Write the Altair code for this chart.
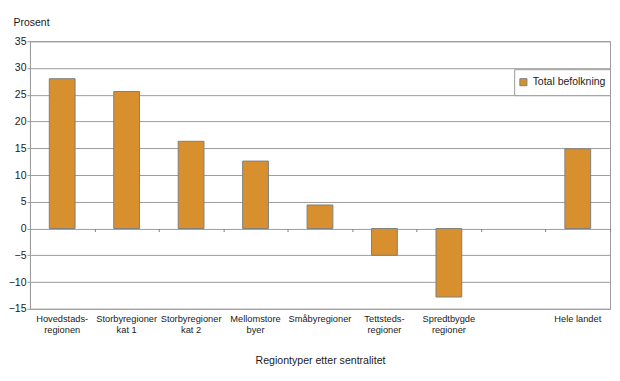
import altair as alt
import pandas as pd

categories = ["Hovedstads-\nregionen", "Storbyregioner\nkat 1", "Storbyregioner\nkat 2",
              "Mellomstore\nbyer", "Småbyregioner", "Tettsteds-\nregioner",
              "Spredtbygde\nregioner", " ", "Hele landet"]
values = [28.0, 25.6, 16.3, 12.6, 4.4, -5.0, -12.8, None, 14.9]
series = "Total befolkning"
y_ticks = [-15, -10, -5, 0, 5, 10, 15, 20, 25, 30, 35]

df = pd.DataFrame({"region": categories, "value": values, "serie": [series] * len(categories)})
df_bars = df.dropna()

FONT = "Liberation Sans"
TXT = "#1a1a1a"
GRID = "#9c9c9c"
ORANGE = "#D8902F"

W, H = 581, 268
zero_from_bottom = H * (0 - (-15)) / 50.0
LEG_W = 96

xscale = alt.Scale(domain=categories, paddingInner=0, paddingOuter=0)
yscale = alt.Scale(domain=[-15, 35], nice=False)

bars = alt.Chart(df_bars).mark_bar(
    width=alt.RelativeBandSize(0.4), stroke="#808080", strokeWidth=1
).encode(
    x=alt.X("region:N", scale=xscale, sort=categories,
            axis=alt.Axis(title="Regiontyper etter sentralitet", labelAngle=0,
                          labelExpr="split(datum.label, '\\n')",
                          ticks=False, domain=False, labelPadding=6,
                          labelFontSize=9.3, labelColor=TXT, labelFont=FONT,
                          labelLineHeight=11, orient="bottom",
                          titleFont=FONT, titleFontSize=10.6, titleColor=TXT,
                          titleFontWeight="normal", titlePadding=20)),
    y=alt.Y("value:Q", scale=yscale,
            axis=alt.Axis(values=y_ticks, title="Prosent", titleAngle=0,
                          titleAlign="left", titleBaseline="alphabetic",
                          titleX=-17, titleY=-16, titleFont=FONT, titleFontSize=10.5,
                          titleColor=TXT, titleFontWeight="normal",
                          labelFont=FONT, labelFontSize=10.5, labelColor=TXT,
                          labelPadding=1, tickSize=3, tickColor=GRID,
                          labelOverlap=False, orient="left",
                          domainColor=GRID, gridColor=GRID)),
    color=alt.Color("serie:N", scale=alt.Scale(range=[ORANGE]),
                    legend=alt.Legend(title=None, orient="none", legendX=W - LEG_W, legendY=28,
                                      symbolType="square", symbolSize=50,
                                      symbolStrokeColor="#808080", symbolStrokeWidth=1,
                                      labelFont=FONT, labelFontSize=10.5, labelColor=TXT,
                                      strokeColor=GRID, fillColor="white",
                                      padding=4, clipHeight=18,
                                      symbolOffset=0, labelOffset=4)),
)

ticks_layer = alt.Chart(df_bars).mark_bar(opacity=0).encode(
    x=alt.X("region:N", scale=xscale, sort=categories,
            axis=alt.Axis(title=None, labels=False, domain=False, ticks=True,
                          orient="bottom",
                          tickBand="extent", tickSize=3, tickColor="#808080",
                          offset=-zero_from_bottom, grid=False)),
    y=alt.Y("value:Q", scale=yscale, axis=None),
)

chart = alt.layer(bars, ticks_layer).resolve_axis(x="independent", y="independent").properties(
    width=W, height=H,
    padding={"top": 9, "left": 0, "right": 1, "bottom": 0},
).configure_view(stroke=GRID)

chart.save("out.html", embed_options={"renderer": "svg", "actions": False})
